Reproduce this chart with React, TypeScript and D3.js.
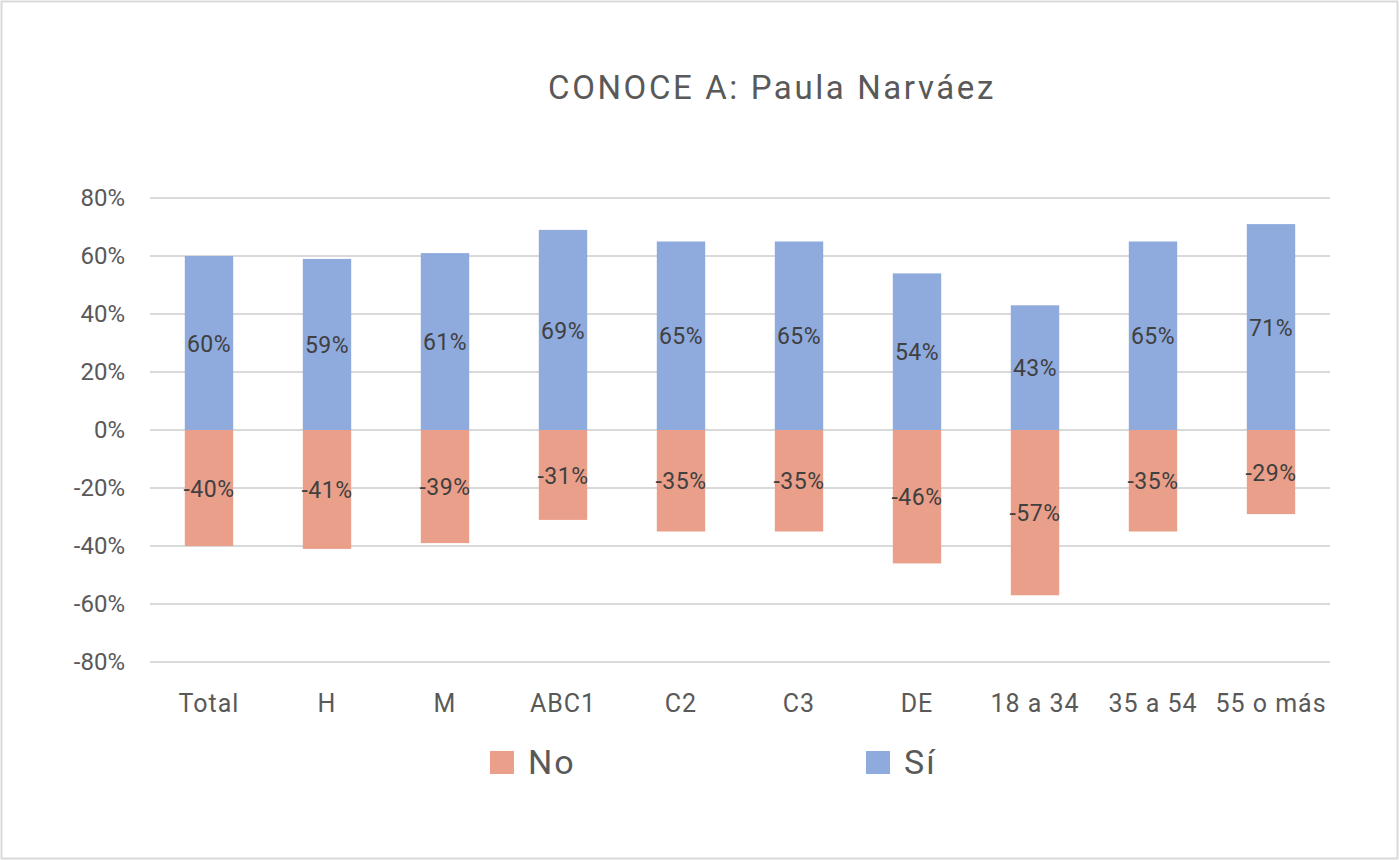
import React, { useEffect, useRef } from 'react';
import * as d3 from 'd3';

// Chart data
const categories = ['Total', 'H', 'M', 'ABC1', 'C2', 'C3', 'DE', '18 a 34', '35 a 54', '55 o más'];
const siValues = [60, 59, 61, 69, 65, 65, 54, 43, 65, 71];
const noValues = [-40, -41, -39, -31, -35, -35, -46, -57, -35, -29];
const yTicks = [-80, -60, -40, -20, 0, 20, 40, 60, 80];
const seriesNames = ['No', 'Sí'];

const W = 1399;
const H = 860;
const FONT = 'Roboto, "Noto Sans", sans-serif';
const SI_COLOR = '#8FAADC';
const NO_COLOR = '#EA9F8A';

const App = () => {
  const svgRef = useRef<SVGSVGElement>(null);

  useEffect(() => {
    const svg = d3.select(svgRef.current);
    svg.selectAll('*').remove();

    // Frame
    svg.append('rect')
      .attr('x', 1.5).attr('y', 1.5)
      .attr('width', W - 3).attr('height', H - 3)
      .attr('fill', '#fff')
      .attr('stroke', '#D9D9D9')
      .attr('stroke-width', 2);

    // Title
    svg.append('text')
      .attr('x', 772).attr('y', 99)
      .attr('text-anchor', 'middle')
      .attr('font-family', FONT)
      .attr('font-size', 33)
      .attr('letter-spacing', 2.6)
      .attr('fill', '#595959')
      .text('CONOCE A: Paula Narváez');

    const x = d3.scaleBand().domain(categories).range([150, 1330]).paddingInner(0.59).paddingOuter(0.295);
    const y = d3.scaleLinear().domain([-80, 80]).range([662, 198]);

    // Gridlines
    svg.append('g').selectAll('line')
      .data(yTicks)
      .enter()
      .append('line')
      .attr('x1', 150).attr('x2', 1330)
      .attr('y1', d => y(d)).attr('y2', d => y(d))
      .attr('stroke', '#D9D9D9')
      .attr('stroke-width', 2);

    // Y tick labels
    svg.append('g').selectAll('text')
      .data(yTicks)
      .enter()
      .append('text')
      .attr('x', 125)
      .attr('y', d => y(d))
      .attr('dy', '0.35em')
      .attr('text-anchor', 'end')
      .attr('font-family', FONT)
      .attr('font-size', 24)
      .attr('fill', '#595959')
      .text(d => `${d}%`);

    // Bars with value labels centred inside
    const drawSeries = (values: number[], color: string) => {
      const g = svg.append('g');
      g.selectAll('rect')
        .data(values)
        .enter()
        .append('rect')
        .attr('x', (d, i) => x(categories[i])!)
        .attr('width', x.bandwidth())
        .attr('y', d => Math.min(y(d), y(0)))
        .attr('height', d => Math.abs(y(d) - y(0)))
        .attr('fill', color);
      g.selectAll('text')
        .data(values)
        .enter()
        .append('text')
        .attr('x', (d, i) => x(categories[i])! + x.bandwidth() / 2)
        .attr('y', d => (y(d) + y(0)) / 2)
        .attr('dy', '0.38em')
        .attr('text-anchor', 'middle')
        .attr('font-family', FONT)
        .attr('font-size', 23)
        .attr('letter-spacing', 0.5)
        .attr('fill', '#404040')
        .text(d => `${d}%`);
    };
    drawSeries(siValues, SI_COLOR);
    drawSeries(noValues, NO_COLOR);

    // Category labels
    svg.append('g').selectAll('text')
      .data(categories)
      .enter()
      .append('text')
      .attr('x', d => x(d)! + x.bandwidth() / 2)
      .attr('y', 712)
      .attr('text-anchor', 'middle')
      .attr('font-family', FONT)
      .attr('font-size', 25)
      .attr('letter-spacing', 1)
      .attr('fill', '#595959')
      .text(d => d);

    // Legend
    const legendX = [490, 866];
    const legendColors = [NO_COLOR, SI_COLOR];
    const legend = svg.append('g').selectAll('g')
      .data(seriesNames)
      .enter()
      .append('g')
      .attr('transform', (d, i) => `translate(${legendX[i]},751)`);
    legend.append('rect')
      .attr('width', 24).attr('height', 23)
      .attr('fill', (d, i) => legendColors[i]);
    legend.append('text')
      .attr('x', 38).attr('y', 23)
      .attr('font-family', FONT)
      .attr('font-size', 34)
      .attr('letter-spacing', 2)
      .attr('fill', '#595959')
      .text(d => d);
  }, []);

  return (
    <svg
      ref={svgRef}
      width={W}
      height={H}
      style={{ position: 'absolute', top: 0, left: 0 }}
    />
  );
};

export default App;
